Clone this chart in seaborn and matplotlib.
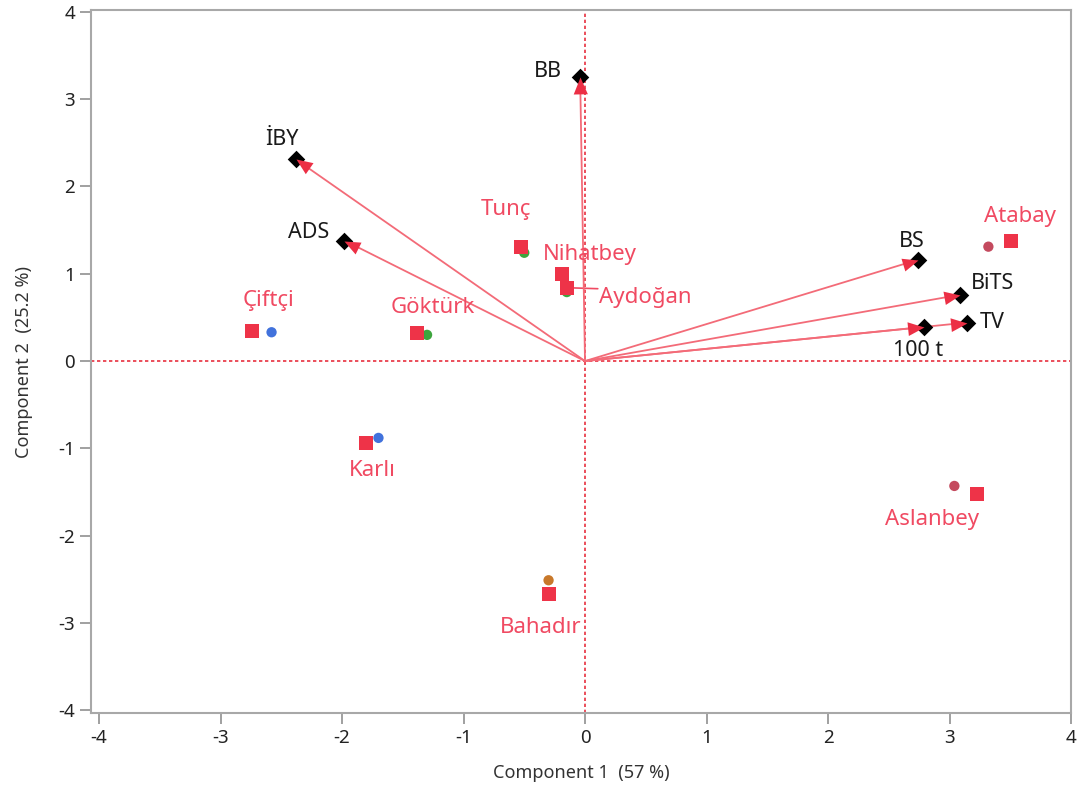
import matplotlib
matplotlib.use("Agg")
import matplotlib.pyplot as plt
from matplotlib.path import Path
import numpy as np
import seaborn as sns
import pandas as pd

# ---- data ----
score_names = ["Atabay", "Tunç", "Nihatbey", "Aydoğan", "Çiftçi", "Göktürk", "Karlı", "Bahadır", "Aslanbey"]
score_x = [3.51, -0.53, -0.19, -0.15, -2.74, -1.38, -1.80, -0.30, 3.23]
score_y = [1.38, 1.31, 1.00, 0.84, 0.34, 0.32, -0.94, -2.67, -1.52]

centroid_x = [3.32, -0.50, -0.19, -0.15, -2.58, -1.30, -1.70, -0.30, 3.04]
centroid_y = [1.31, 1.24, 0.98, 0.79, 0.33, 0.30, -0.88, -2.51, -1.43]
centroid_cluster = ["4", "2", "2", "2", "1", "2", "1", "3", "4"]

loading_names = ["BB", "İBY", "ADS", "BS", "BiTS", "TV", "100 t"]
loading_x = [-0.04, -2.38, -1.98, 2.74, 3.09, 3.14, 2.79]
loading_y = [3.25, 2.31, 1.38, 1.16, 0.76, 0.44, 0.39]

x_ticks = [-4, -3, -2, -1, 0, 1, 2, 3, 4]
y_ticks = [-4, -3, -2, -1, 0, 1, 2, 3, 4]
x_label = "Component 1  (57 %)"
y_label = "Component 2  (25.2 %)"

# ---- styles / label offsets (pixels) ----
cluster_colors = {"1": "#4172DC", "2": "#3DA53D", "3": "#C8782A", "4": "#C44A5E"}
score_offsets = [(9, -24), (-15, -37), (28, -19), (78, 10), (16, -31), (15, -26), (6, 27), (-8, 33), (-45, 26)]
loading_offsets = [(-32, -6), (-14, -20), (-36, -8), (-6, -18), (32, -11), (26, 0), (-6, 23)]

RED = "#EE3348"
LABEL_RED = "#F04A62"
ARROW_LINE = "#F36B78"
ARROW_HEAD = "#EC2F45"

sns.set_theme(style="white")
plt.rcParams["font.family"] = ["Noto Sans", "DejaVu Sans"]

fig = plt.figure(figsize=(10.81, 7.96), dpi=100)
ax = fig.add_axes([91 / 1081, 1 - 713 / 796, (1071 - 91) / 1081, (713 - 10) / 796])
ax.set_xlim(-4.066, 4.0)
ax.set_ylim(-4.03, 4.02)

df_c = pd.DataFrame({"x": centroid_x, "y": centroid_y, "cluster": centroid_cluster})
df_s = pd.DataFrame({"x": score_x, "y": score_y, "name": score_names})
df_l = pd.DataFrame({"x": loading_x, "y": loading_y, "name": loading_names})

ax.axhline(0, color="#E8303F", lw=1.2, ls=(0, (2, 1.6)), zorder=1)
ax.axvline(0, color="#E8303F", lw=1.2, ls=(0, (2, 1.6)), zorder=1)

sns.scatterplot(data=df_c, x="x", y="y", hue="cluster", palette=cluster_colors,
                s=55, linewidth=0, legend=False, ax=ax, zorder=3)
sns.scatterplot(data=df_s, x="x", y="y", marker="s", color=RED, s=110,
                linewidth=0, legend=False, ax=ax, zorder=4)
sns.scatterplot(data=df_l, x="x", y="y", marker="D", color="black", s=80,
                linewidth=0, legend=False, ax=ax, zorder=5)

# loading arrows: thin pink shaft from origin + solid red head with tip on the loading
origin_disp = ax.transData.transform((0, 0))
for lx, ly in zip(loading_x, loading_y):
    ax.annotate("", xy=(lx, ly), xytext=(0, 0),
                arrowprops=dict(arrowstyle="-", color=ARROW_LINE, lw=1.3, shrinkA=0, shrinkB=0),
                zorder=4.5)
    tip_disp = ax.transData.transform((lx, ly))
    ang = np.arctan2(tip_disp[1] - origin_disp[1], tip_disp[0] - origin_disp[0])
    c, s_ = np.cos(ang), np.sin(ang)
    base = np.array([[0, 0], [-1, 0.42], [-1, -0.42], [0, 0]])
    rot = base @ np.array([[c, s_], [-s_, c]])
    head = Path(rot, [Path.MOVETO, Path.LINETO, Path.LINETO, Path.CLOSEPOLY])
    ax.scatter([lx], [ly], marker=head, s=600, color=ARROW_HEAD, linewidths=0, zorder=6)

# score labels
for (name, sx, sy), (dx, dy) in zip(zip(score_names, score_x, score_y), score_offsets):
    ax.annotate(name, xy=(sx, sy), xytext=(dx * 0.72, -dy * 0.72), textcoords="offset points",
                ha="center", va="center", color=LABEL_RED, fontsize=16, zorder=7)
# Aydoğan leader line
i = score_names.index("Aydoğan")
ax.annotate("", xy=(score_x[i], score_y[i]), xytext=(31 * 0.72, -1 * 0.72), textcoords="offset points",
            arrowprops=dict(arrowstyle="-", color=LABEL_RED, lw=1.2, shrinkA=0, shrinkB=0), zorder=3)

for (name, lx, ly), (dx, dy) in zip(zip(loading_names, loading_x, loading_y), loading_offsets):
    ax.annotate(name, xy=(lx, ly), xytext=(dx * 0.72, -dy * 0.72), textcoords="offset points",
                ha="center", va="center", color="#1a1a1a", fontsize=15.5, zorder=7)

ax.set_xticks(x_ticks)
ax.set_yticks(y_ticks)
ax.set_xticklabels([str(t) for t in x_ticks])
ax.set_yticklabels([str(t) for t in y_ticks])
ax.tick_params(axis="both", which="major", direction="out", length=8, width=1.4,
               color="#A0A0A0", labelcolor="#222222", labelsize=13.5, pad=3.5,
               bottom=True, left=True)
for sp in ax.spines.values():
    sp.set_color("#A8A8A8")
    sp.set_linewidth(1.5)
ax.set_xlabel(x_label, fontsize=13, color="#333333", labelpad=12)
ax.set_ylabel(y_label, fontsize=13, color="#333333", labelpad=18)

fig.savefig("out.png", dpi=100)
